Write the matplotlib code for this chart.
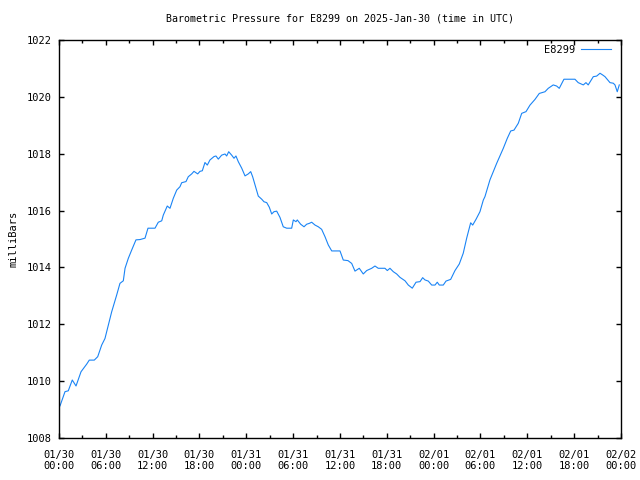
#!/usr/bin/env python3
"""Barometric pressure plot for station E8299 (gnuplot-like look)."""
import pandas as pd
import matplotlib
matplotlib.use('Agg')
import matplotlib.pyplot as plt
import matplotlib.dates as mdates
from matplotlib.ticker import MultipleLocator

STATION = 'E8299'
START = pd.Timestamp('2025-01-30 00:00')
END = pd.Timestamp('2025-02-02 00:00')

# hours since START
hours = [0.13, 0.77, 1.19, 1.70, 2.18, 2.82, 3.55, 3.88, 4.52, 4.96, 5.47, 5.89,
         6.32, 6.75, 7.39, 7.81, 8.24, 8.46, 8.88, 9.31, 9.86, 10.38, 11.02, 11.40,
         11.66, 12.30, 12.72, 13.16, 13.36, 13.87, 14.22, 14.64, 15.08, 15.50, 15.72,
         16.27, 16.56, 17.00, 17.29, 17.77, 18.06, 18.36, 18.70, 19.00, 19.34, 19.86,
         20.11, 20.41, 20.84, 21.27, 21.48, 21.74, 22.12, 22.42, 22.67, 22.97, 23.41,
         23.83, 24.25, 24.56, 24.81, 25.24, 25.53, 25.97, 26.26, 26.61, 26.94, 27.25,
         27.54, 27.89, 28.31, 28.73, 29.17, 29.81, 30.02, 30.36, 30.53, 30.96, 31.39,
         31.73, 32.07, 32.37, 32.80, 33.22, 33.65, 34.08, 34.50, 34.94, 36.00, 36.42,
         37.02, 37.50, 37.92, 38.47, 38.98, 39.42, 40.06, 40.48, 40.90, 41.76, 42.06,
         42.40, 42.83, 43.26, 43.69, 44.33, 44.75, 45.26, 45.74, 46.25, 46.59, 46.89,
         47.31, 47.75, 48.17, 48.46, 48.72, 49.23, 49.58, 50.18, 50.73, 51.28, 51.79,
         52.23, 52.74, 53.00, 53.42, 53.93, 54.36, 54.57, 55.21, 56.07, 56.92, 57.43,
         57.87, 58.29, 58.84, 59.28, 59.83, 60.34, 60.98, 61.53, 62.26, 62.68, 63.32,
         63.76, 64.09, 64.69, 66.10, 66.52, 67.17, 67.51, 67.80, 68.45, 68.88, 69.31,
         69.65, 69.95, 70.59, 71.01, 71.23, 71.52, 71.78]

pressure = [1009.13, 1009.63, 1009.66, 1010.04, 1009.83, 1010.33, 1010.60, 1010.74,
            1010.74, 1010.86, 1011.27, 1011.50, 1011.97, 1012.44, 1013.03, 1013.44,
            1013.53, 1013.97, 1014.32, 1014.61, 1014.97, 1014.98, 1015.03, 1015.38,
            1015.38, 1015.38, 1015.59, 1015.64, 1015.84, 1016.16, 1016.08, 1016.43,
            1016.72, 1016.84, 1016.98, 1017.02, 1017.19, 1017.29, 1017.38, 1017.29,
            1017.38, 1017.40, 1017.69, 1017.60, 1017.78, 1017.90, 1017.92, 1017.81,
            1017.95, 1017.99, 1017.92, 1018.07, 1017.95, 1017.84, 1017.92, 1017.72,
            1017.49, 1017.22, 1017.29, 1017.37, 1017.19, 1016.78, 1016.51, 1016.40,
            1016.31, 1016.28, 1016.12, 1015.88, 1015.96, 1015.98, 1015.76, 1015.43,
            1015.38, 1015.38, 1015.67, 1015.61, 1015.67, 1015.52, 1015.43, 1015.52,
            1015.55, 1015.59, 1015.49, 1015.43, 1015.34, 1015.08, 1014.79, 1014.58,
            1014.58, 1014.26, 1014.24, 1014.14, 1013.87, 1013.97, 1013.77, 1013.89,
            1013.97, 1014.05, 1013.97, 1013.97, 1013.89, 1013.97, 1013.85, 1013.77,
            1013.65, 1013.53, 1013.38, 1013.27, 1013.48, 1013.50, 1013.64, 1013.56,
            1013.52, 1013.38, 1013.38, 1013.48, 1013.38, 1013.38, 1013.52, 1013.58,
            1013.89, 1014.12, 1014.50, 1015.03, 1015.57, 1015.49, 1015.69, 1015.96,
            1016.37, 1016.49, 1017.08, 1017.66, 1018.19, 1018.54, 1018.80, 1018.83,
            1019.07, 1019.42, 1019.48, 1019.71, 1019.91, 1020.12, 1020.18, 1020.30,
            1020.42, 1020.38, 1020.30, 1020.62, 1020.62, 1020.50, 1020.42, 1020.50,
            1020.42, 1020.71, 1020.73, 1020.83, 1020.77, 1020.71, 1020.50, 1020.48,
            1020.42, 1020.18, 1020.42]

times = START + pd.to_timedelta(hours, unit='h')

plt.rcParams['font.family'] = ['DejaVu Sans Mono']
plt.rcParams['font.size'] = 7.5

fig = plt.figure(figsize=(6.4, 4.8), dpi=100)
ax = fig.add_axes([59 / 640, 42 / 480, 562 / 640, 398 / 480])

ax.plot(times, pressure, color='#1a84f5', linewidth=0.8, label=STATION)

ax.set_xlim(START, END)
ax.set_ylim(1008, 1022)
ax.yaxis.set_major_locator(MultipleLocator(2))
ax.xaxis.set_major_locator(mdates.HourLocator(byhour=range(0, 24, 6)))
ax.xaxis.set_minor_locator(mdates.HourLocator(byhour=range(3, 24, 6)))
ax.xaxis.set_major_formatter(mdates.DateFormatter('%m/%d\n%H:%M'))

ax.tick_params(which='both', direction='in', top=True, right=True, width=1,
               labelsize=7.5)
ax.tick_params(which='major', length=3.5)
ax.tick_params(which='minor', length=2.5)
ax.tick_params(axis='x', pad=8.5)
ax.tick_params(axis='y', pad=5)
for s in ax.spines.values():
    s.set_linewidth(1)

ax.set_title('Barometric Pressure for E8299 on 2025-Jan-30 (time in UTC)',
             fontsize=7.2, pad=13)
ax.set_ylabel('milliBars', labelpad=6)

ax.legend(loc='upper right', bbox_to_anchor=(1.0, 1.014), frameon=False,
          markerfirst=False, handlelength=2.8, borderaxespad=0.6,
          handletextpad=0.6)

fig.savefig('out.png', dpi=100)
